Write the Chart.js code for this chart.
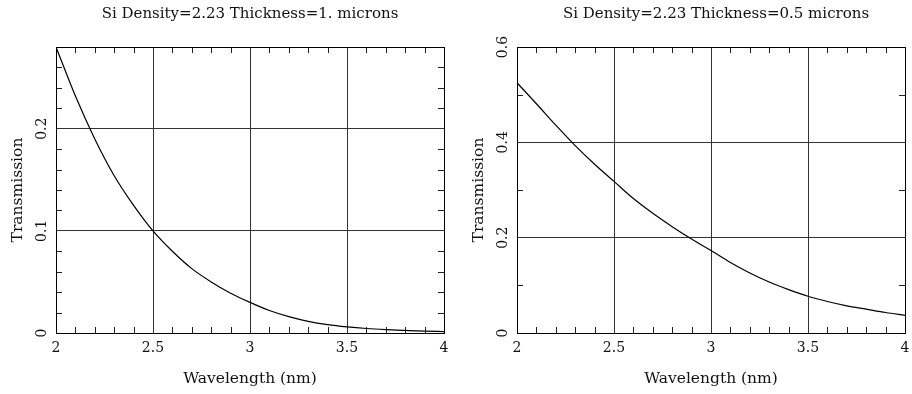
<!DOCTYPE html>
<html>
<head>
<title>Si Transmission</title>
<script src="https://cdn.jsdelivr.net/npm/chart.js"></script>
<style>
    body { margin: 0; background: #fff; }
    #wrap { position: relative; width: 912px; height: 394px; overflow: hidden; }
    canvas { position: absolute; top: 0; }
</style>
</head>
<body>
<div id="wrap">
    <canvas id="left" width="500" height="394" style="left:0px"></canvas>
    <canvas id="right" width="520" height="394" style="left:456px"></canvas>
</div>

<script>
    // values
    var wavelength = [2.0, 2.1, 2.2, 2.3, 2.4, 2.5, 2.6, 2.7, 2.8, 2.9, 3.0,
                      3.1, 3.2, 3.3, 3.4, 3.5, 3.6, 3.7, 3.8, 3.9, 4.0];
    var transThick = [0.280, 0.232, 0.190, 0.154, 0.125, 0.100, 0.080, 0.063, 0.050, 0.039, 0.030,
                      0.022, 0.016, 0.0114, 0.0082, 0.0060, 0.0044, 0.0033, 0.0025, 0.0018, 0.0014];
    var transThin = [0.525, 0.481, 0.436, 0.393, 0.354, 0.318, 0.282, 0.251, 0.223, 0.197, 0.173,
                     0.148, 0.126, 0.107, 0.091, 0.077, 0.066, 0.057, 0.050, 0.043, 0.037];

    var xTicks = [2, 2.5, 3, 3.5, 4];
    var xMinor = [2.1, 2.2, 2.3, 2.4, 2.6, 2.7, 2.8, 2.9, 3.1, 3.2, 3.3, 3.4, 3.6, 3.7, 3.8, 3.9];
    var yTicksThick = [0, 0.1, 0.2];
    var yMinorThick = [0.02, 0.04, 0.06, 0.08, 0.12, 0.14, 0.16, 0.18, 0.22, 0.24, 0.26];
    var yTicksThin = [0, 0.2, 0.4, 0.6];
    var yMinorThin = [0.1, 0.3, 0.5];

    var fontFam = "'DejaVu Serif', 'Liberation Serif', serif";

    // inner minor ticks on all four sides plus the frame
    var frameTicks = {
        id: 'frameTicks',
        afterDraw: function(chart, args, opts) {
            var ctx = chart.ctx, a = chart.chartArea;
            var xs = chart.scales.x, ys = chart.scales.y;
            var len = 6;
            ctx.save();
            ctx.strokeStyle = '#222';
            ctx.lineWidth = 1;
            ctx.beginPath();
            opts.xMinor.forEach(function(v) {
                var px = Math.round(xs.getPixelForValue(v)) + 0.5;
                ctx.moveTo(px, a.top); ctx.lineTo(px, a.top + len);
                ctx.moveTo(px, a.bottom); ctx.lineTo(px, a.bottom - len);
            });
            opts.yMinor.forEach(function(v) {
                var py = Math.round(ys.getPixelForValue(v)) + 0.5;
                ctx.moveTo(a.left, py); ctx.lineTo(a.left + len, py);
                ctx.moveTo(a.right, py); ctx.lineTo(a.right - len, py);
            });
            ctx.stroke();
            ctx.strokeStyle = '#000';
            ctx.strokeRect(Math.round(a.left) + 0.5, Math.round(a.top) + 0.5,
                           Math.round(a.right - a.left), Math.round(a.bottom - a.top));
            ctx.restore();
        }
    };

    function makeChart(id, title, values, yMax, yTicks, yMinor, yWidth, rightWidth) {
        var pts = wavelength.map(function(w, i) { return {x: w, y: values[i]}; });
        return new Chart(document.getElementById(id), {
            type: 'scatter',
            data: {
                datasets: [{
                    data: pts,
                    showLine: true,
                    borderColor: '#000',
                    borderWidth: 1.2,
                    pointRadius: 0,
                    cubicInterpolationMode: 'monotone'
                }]
            },
            plugins: [frameTicks],
            options: {
                responsive: false,
                animation: false,
                layout: { padding: 0 },
                plugins: {
                    legend: { display: false },
                    tooltip: { enabled: false },
                    title: {
                        display: true,
                        text: title,
                        color: '#111',
                        font: { family: fontFam, size: 15, weight: 'normal' },
                        padding: { top: 5, bottom: 24 }
                    },
                    frameTicks: { xMinor: xMinor, yMinor: yMinor }
                },
                scales: {
                    x: {
                        type: 'linear',
                        min: 2, max: 4,
                        afterBuildTicks: function(s) { s.ticks = xTicks.map(function(v) { return {value: v}; }); },
                        afterFit: function(s) { s.height = 61; },
                        grid: { color: '#333', drawTicks: false },
                        border: { color: '#000' },
                        ticks: {
                            color: '#111', padding: 7, maxRotation: 0,
                            font: { family: fontFam, size: 14 },
                            callback: function(v) { return String(v); }
                        },
                        title: {
                            display: true, text: 'Wavelength (nm)', color: '#111',
                            font: { family: fontFam, size: 15.5 },
                            padding: { top: 0, bottom: 6 }
                        }
                    },
                    y: {
                        type: 'linear',
                        min: 0, max: yMax,
                        afterBuildTicks: function(s) { s.ticks = yTicks.map(function(v) { return {value: v}; }); },
                        afterFit: function(s) { s.width = yWidth; },
                        grid: { color: '#333', drawTicks: false },
                        border: { color: '#000' },
                        ticks: {
                            color: '#111', padding: 3, minRotation: 90, maxRotation: 90,
                            crossAlign: 'center',
                            font: { family: fontFam, size: 14 },
                            callback: function(v) { return String(v); }
                        },
                        title: {
                            display: true, text: 'Transmission', color: '#111',
                            font: { family: fontFam, size: 15.5 },
                            padding: { top: yWidth - 47, bottom: 0 }
                        }
                    },
                    yr: {
                        type: 'linear',
                        position: 'right',
                        afterFit: function(s) { s.width = rightWidth; },
                        grid: { display: false },
                        border: { display: false },
                        ticks: { display: false }
                    }
                }
            }
        });
    }

    makeChart('left', 'Si Density=2.23 Thickness=1. microns', transThick, 0.28,
              yTicksThick, yMinorThick, 56, 56);
    makeChart('right', 'Si Density=2.23 Thickness=0.5 microns', transThin, 0.6,
              yTicksThin, yMinorThin, 61, 71);
</script>
</body>
</html>
